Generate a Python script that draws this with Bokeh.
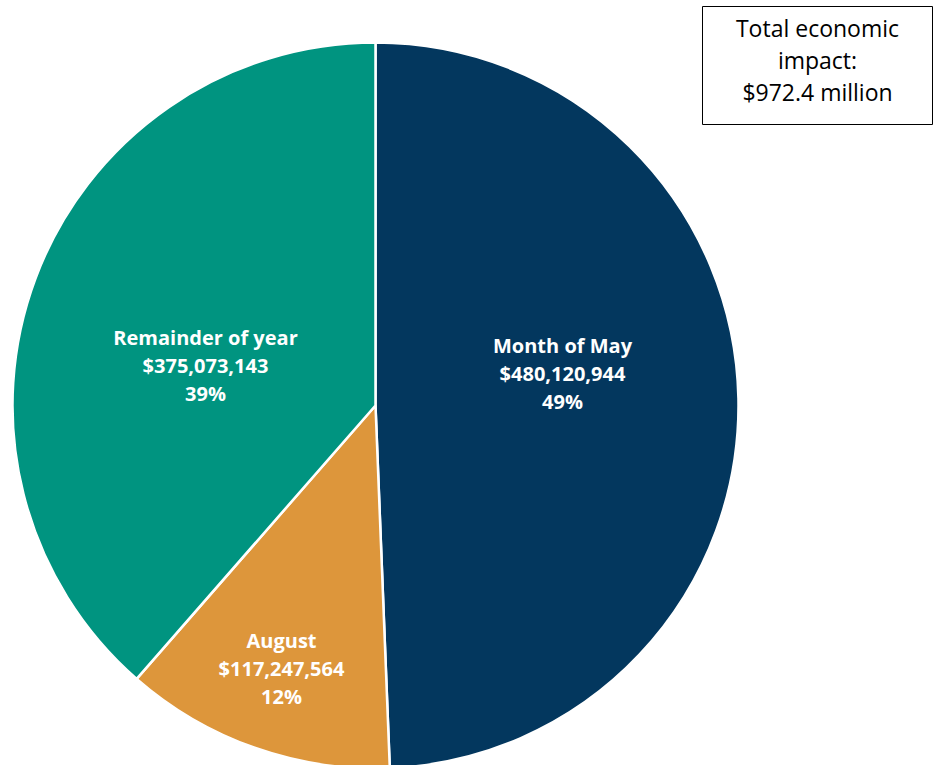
import math
from bokeh.plotting import figure
from bokeh.models import Range1d, ColumnDataSource
from bokeh.core.properties import value
from bokeh.embed import file_html
from bokeh.resources import INLINE

# ---- data ----
categories = ["Month of May", "August", "Remainder of year"]
amounts = [480120944, 117247564, 375073143]
pct_labels = ["49%", "12%", "39%"]
colors = ["#03375E", "#DD963B", "#009480"]
total_text = ["Total economic", "impact:", "$972.4 million"]

W, H = 939, 765
CX, CY, R = 375, H - 405, 363
# label anchor (pixel) positions, layout only
label_pos = [(562, 373), (281, 668), (205, 365)]

total = sum(amounts)
starts, ends = [], []
cum = 0.0
for a in amounts:
    s = math.pi / 2 - 2 * math.pi * cum / total
    cum += a
    e = math.pi / 2 - 2 * math.pi * cum / total
    starts.append(s)
    ends.append(e)

p = figure(width=W, height=H, output_backend="svg", toolbar_location=None,
           x_range=Range1d(0, W), y_range=Range1d(0, H), min_border=0,
           outline_line_color=None, background_fill_color="white")
p.axis.visible = False
p.grid.visible = False

src = ColumnDataSource(dict(x=[CX] * 3, y=[CY] * 3, s=starts, e=ends, c=colors))
p.wedge(x="x", y="y", radius=R, start_angle="s", end_angle="e", direction="clock",
        fill_color="c", line_color="white", line_width=2.5, source=src)

lx, ly, lt = [], [], []
for (px, py), cat, amt, pc in zip(label_pos, categories, amounts, pct_labels):
    lines = [cat, "${:,}".format(amt), pc]
    for i, t in enumerate(lines):
        lx.append(px)
        ly.append(H - (py + (i - 1) * 28))
        lt.append(t)
p.text(x=lx, y=ly, text=lt, text_align="center", text_baseline="middle",
       text_color="white", text_font=value("Open Sans"), text_font_style="bold",
       text_font_size="20px")

# total box
p.quad(left=[702], right=[932], top=[H - 6], bottom=[H - 124],
       fill_color="white", line_color="black", line_width=1)
p.text(x=[817] * 3, y=[H - 27, H - 59, H - 91], text=total_text,
       text_align="center", text_baseline="middle", text_color="black",
       text_font=value("Open Sans"), text_font_size="23px")

open("out.html", "w").write(file_html(p, INLINE))
